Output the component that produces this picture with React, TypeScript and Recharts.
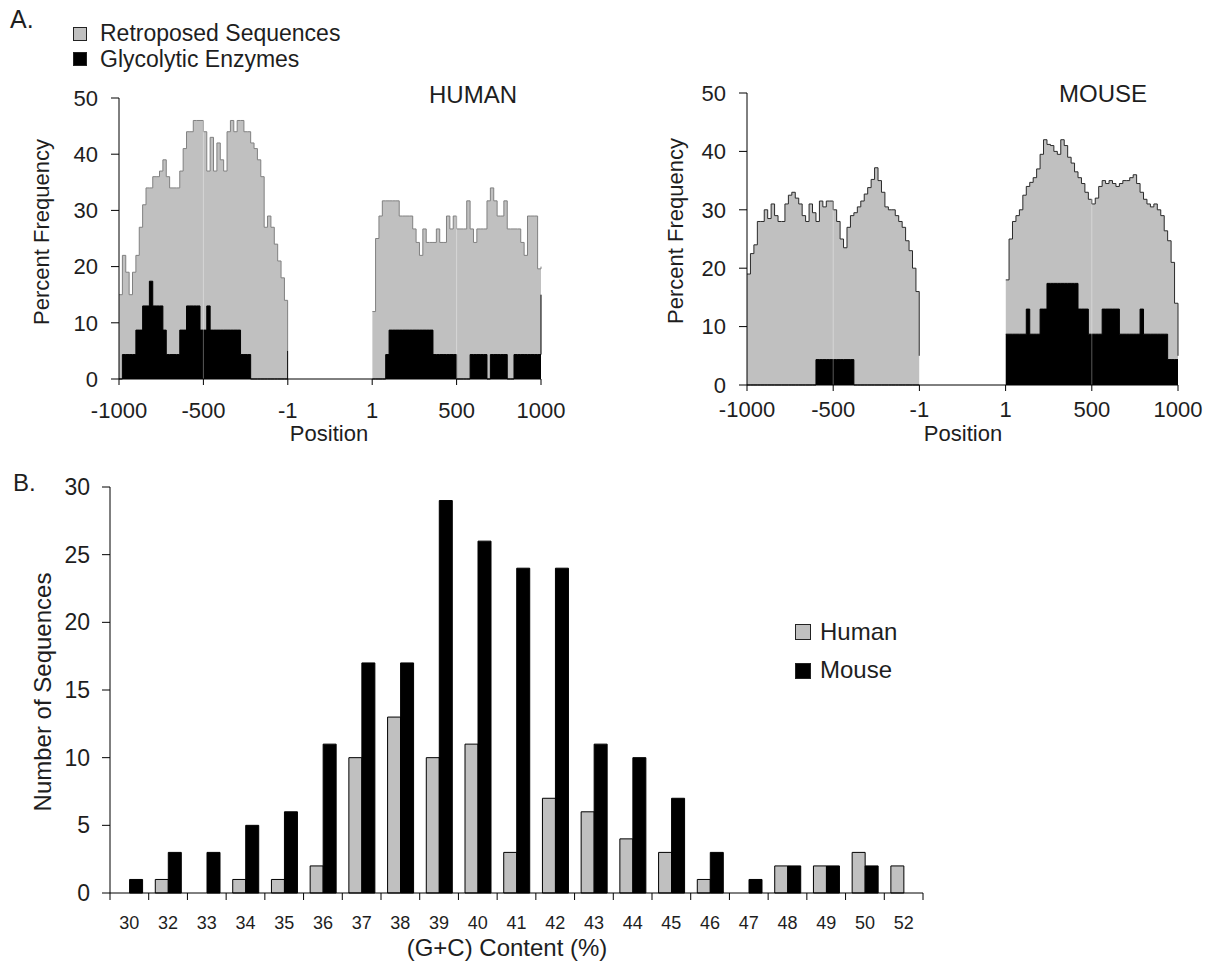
import React from "react";
import {
  AreaChart,
  Area,
  BarChart,
  Bar,
  XAxis,
  YAxis,
  ReferenceLine,
} from "recharts";

// window start positions (bp), upstream and downstream of the retroposition site
const leftPos = [
  -1000, -980, -960, -940, -920, -900, -880, -860, -840, -820,
  -800, -780, -760, -740, -720, -700, -680, -660, -640, -620,
  -600, -580, -560, -540, -520, -500, -480, -460, -440, -420,
  -400, -380, -360, -340, -320, -300, -280, -260, -240, -220,
  -200, -180, -160, -140, -120, -100, -80, -60, -40, -20, -1,
];
const rightPos = [
  1, 20, 40, 60, 80, 100, 120, 140, 160, 180,
  200, 220, 240, 260, 280, 300, 320, 340, 360, 380,
  400, 420, 440, 460, 480, 500, 520, 540, 560, 580,
  600, 620, 640, 660, 680, 700, 720, 740, 760, 780,
  800, 820, 840, 860, 880, 900, 920, 940, 960, 980, 1000,
];

const humanRetroLeft = [
  15, 22, 19, 15, 19, 22, 27, 31, 34, 34,
  36, 36, 37, 39, 36, 34, 34, 34, 37, 41,
  44, 44, 46, 46, 46, 44, 37, 43, 37, 42,
  39, 37, 44, 46, 44, 46, 46, 44, 44, 42,
  41, 39, 36, 27, 29, 27, 24, 21, 18, 14, 5,
];
const humanGlycoLeft = [
  0, 4.35, 4.35, 4.35, 4.35, 8.7, 8.7, 13, 13, 17.4,
  13, 13, 13, 8.7, 4.35, 4.35, 4.35, 4.35, 8.7, 8.7,
  13, 13, 13, 13, 8.7, 8.7, 13, 8.7, 8.7, 8.7,
  8.7, 8.7, 8.7, 8.7, 8.7, 8.7, 4.35, 4.35, 4.35, 0,
  0, 0, 0, 0, 0, 0, 0, 0, 0, 0, 5,
];
const humanRetroRight = [
  12, 25, 29, 31.7, 31.7, 31.7, 31.7, 31.7, 29, 29,
  29, 29, 26.7, 24.3, 22, 26.7, 24.3, 24.3, 24.3, 26.7,
  24.3, 24.3, 29, 26.7, 29, 26.7, 26.7, 26.7, 31.7, 26.7,
  24.3, 26.7, 26.7, 26.7, 31.7, 34, 31.7, 29, 29, 31.7,
  26.7, 26.7, 26.7, 26.7, 24.3, 22, 29, 29, 29, 19.6, 20,
];
const humanGlycoRight = [
  0, 0, 0, 0, 4.35, 8.7, 8.7, 8.7, 8.7, 8.7,
  8.7, 8.7, 8.7, 8.7, 8.7, 8.7, 8.7, 8.7, 4.35, 4.35,
  4.35, 4.35, 4.35, 4.35, 4.35, 0, 0, 0, 0, 4.35,
  4.35, 4.35, 4.35, 4.35, 0, 4.35, 4.35, 4.35, 4.35, 4.35,
  0, 0, 4.35, 4.35, 4.35, 4.35, 4.35, 4.35, 4.35, 4.35, 15,
];

const mouseRetroLeft = [
  19, 22.5, 24, 28, 28, 30, 28.5, 31, 29, 28,
  28, 31, 32.5, 33, 32, 31, 29, 28, 31, 29.5,
  28, 31.5, 30.5, 31.5, 31.5, 30, 28, 25, 23.5, 27,
  29, 29.5, 30.5, 31.5, 32.7, 33.8, 35.2, 37.2, 35, 33,
  30.5, 30, 30, 29, 28, 27, 24.7, 23, 20, 16, 5,
];
const mouseGlycoLeft = [
  0, 0, 0, 0, 0, 0, 0, 0, 0, 0,
  0, 0, 0, 0, 0, 0, 0, 0, 0, 0,
  4.35, 4.35, 4.35, 4.35, 4.35, 4.35, 4.35, 4.35, 4.35, 4.35,
  4.35, 0, 0, 0, 0, 0, 0, 0, 0, 0,
  0, 0, 0, 0, 0, 0, 0, 0, 0, 0, 0,
];
const mouseRetroRight = [
  18, 25, 28, 29, 30, 32.5, 34, 34.7, 35.5, 37,
  39.5, 42, 41.2, 41, 40, 39.5, 42, 41, 39, 38,
  36.5, 35.5, 34.5, 33, 31.8, 31, 32, 34, 35, 34.5,
  35, 34.5, 34, 34.5, 35, 35, 35.5, 36, 34.5, 33,
  31.8, 31, 30.5, 31, 30, 29, 26.4, 24.7, 21, 14, 5,
];
const mouseGlycoRight = [
  8.7, 8.7, 8.7, 8.7, 8.7, 8.7, 13, 8.7, 8.7, 8.7,
  13, 13, 17.4, 17.4, 17.4, 17.4, 17.4, 17.4, 17.4, 17.4,
  17.4, 13, 13, 13, 8.7, 8.7, 8.7, 8.7, 13, 13,
  13, 13, 13, 8.7, 8.7, 8.7, 8.7, 8.7, 8.7, 13,
  8.7, 8.7, 8.7, 8.7, 8.7, 8.7, 8.7, 4.35, 4.35, 4.35, 4.35,
];

const posTicks = [0, 500, 1000, 1500, 2000, 2500];
const posTickLabels = ["-1000", "-500", "-1", "1", "500", "1000"];
const freqTicks = [0, 10, 20, 30, 40, 50];

const gcCategories = [
  "30", "32", "33", "34", "35", "36", "37", "38", "39", "40", "41",
  "42", "43", "44", "45", "46", "47", "48", "49", "50", "52",
];
const humanCounts = [0, 1, 0, 1, 1, 2, 10, 13, 10, 11, 3, 7, 6, 4, 3, 1, 0, 2, 2, 3, 2];
const mouseCounts = [1, 3, 3, 5, 6, 11, 17, 17, 29, 26, 24, 24, 11, 10, 7, 3, 1, 2, 2, 2, 0];
const countTicks = [0, 5, 10, 15, 20, 25, 30];

const GRAY = "#c0c0c0";
const INK = "#1e1e1e";
const FONT = "'Liberation Sans', Arial, sans-serif";

// upstream mapped to 0..999, downstream shifted so a gap sits between them
function buildRows(rl: number[], gl: number[], rr: number[], gr: number[]) {
  const left = leftPos.map((p, i) => ({ x: p + 1000, retro: rl[i], glyco: gl[i] }));
  const right = rightPos.map((p, i) => ({ x: p + 1500, retro: rr[i], glyco: gr[i] }));
  return [...left, { x: 1250, retro: null, glyco: null }, ...right];
}

const humanRows = buildRows(humanRetroLeft, humanGlycoLeft, humanRetroRight, humanGlycoRight);
const mouseRows = buildRows(mouseRetroLeft, mouseGlycoLeft, mouseRetroRight, mouseGlycoRight);
const gcRows = gcCategories.map((c, i) => ({ gc: c, human: humanCounts[i], mouse: mouseCounts[i] }));

function Txt({ x, y, size, children, rotate, anchor = "middle" }: any) {
  const tx = anchor === "middle" ? "-50%" : "0";
  return (
    <div
      style={{
        position: "absolute",
        left: x,
        top: y,
        fontSize: size,
        lineHeight: 1,
        whiteSpace: "nowrap",
        color: INK,
        transform: `translate(${tx}, -50%)${rotate ? ` rotate(${rotate}deg)` : ""}`,
        transformOrigin: anchor === "middle" ? "center" : "left center",
      }}
    >
      {children}
    </div>
  );
}

function Swatch({ x, y, size, fill }: any) {
  return (
    <div
      style={{
        position: "absolute",
        left: x,
        top: y,
        width: size,
        height: size,
        boxSizing: "border-box",
        background: fill,
        border: "1px solid #222",
      }}
    />
  );
}

function PositionChart({ rows, width, yAxisWidth, marginTop, marginRight, xAxisHeight, tickMargin, stroke }: any) {
  return (
    <AreaChart
      width={width}
      height={460}
      data={rows}
      margin={{ top: marginTop, right: marginRight, left: 0, bottom: 0 }}
    >
      <XAxis
        dataKey="x"
        type="number"
        domain={[0, 2500]}
        ticks={posTicks}
        tickFormatter={(v: number) => posTickLabels[posTicks.indexOf(v)]}
        height={xAxisHeight}
        axisLine={{ stroke: "#000" }}
        tickLine={{ stroke: "#000" }}
        tickSize={6}
        tickMargin={tickMargin}
        tick={{ fontSize: 22, fill: INK }}
        interval={0}
      />
      <YAxis
        domain={[0, 50]}
        ticks={freqTicks}
        width={yAxisWidth}
        axisLine={{ stroke: "#000" }}
        tickLine={{ stroke: "#000" }}
        tickSize={8}
        tickMargin={13}
        tick={{ fontSize: 22, fill: INK }}
        interval={0}
      />
      <Area
        type="stepAfter"
        dataKey="retro"
        fill={GRAY}
        fillOpacity={1}
        stroke={stroke}
        strokeWidth={1}
        dot={false}
        activeDot={false}
        isAnimationActive={false}
      />
      <Area
        type="stepAfter"
        dataKey="glyco"
        fill="#000"
        fillOpacity={1}
        stroke="#000"
        strokeWidth={1}
        dot={false}
        activeDot={false}
        isAnimationActive={false}
      />
      <ReferenceLine x={500} stroke="#fff" strokeOpacity={0.35} />
      <ReferenceLine x={2000} stroke="#fff" strokeOpacity={0.35} />
    </AreaChart>
  );
}

function GcTick(props: any) {
  const { x, y, payload, index } = props;
  const half = payload && payload.offset ? payload.offset : 19.4;
  const last = index === gcCategories.length - 1;
  return (
    <g>
      <line x1={x - half} x2={x - half} y1={y} y2={y + 7} stroke="#000" />
      {last && <line x1={x + half} x2={x + half} y1={y} y2={y + 7} stroke="#000" />}
      <text x={x} y={y + 23} dy="0.71em" textAnchor="middle" fontSize={18} fill={INK}>
        {payload.value}
      </text>
    </g>
  );
}

export default function App() {
  return (
    <div
      style={{
        position: "absolute",
        left: 0,
        top: 0,
        width: 1210,
        height: 969,
        overflow: "hidden",
        background: "#fff",
        fontFamily: FONT,
      }}
    >
      <div style={{ position: "absolute", left: 0, top: 0 }}>
        <PositionChart
          rows={humanRows}
          width={600}
          yAxisWidth={119}
          marginTop={98}
          marginRight={59}
          xAxisHeight={81}
          tickMargin={17}
          stroke="#808080"
        />
      </div>
      <div style={{ position: "absolute", left: 620, top: 0 }}>
        <PositionChart
          rows={mouseRows}
          width={590}
          yAxisWidth={127}
          marginTop={93}
          marginRight={32}
          xAxisHeight={75}
          tickMargin={10}
          stroke="#2a2a2a"
        />
      </div>
      <div style={{ position: "absolute", left: 0, top: 470 }}>
        <BarChart
          width={960}
          height={499}
          data={gcRows}
          margin={{ top: 17, right: 37, left: 0, bottom: 0 }}
          barGap={0}
          barCategoryGap="17%"
        >
          <XAxis
            dataKey="gc"
            height={76}
            axisLine={{ stroke: "#000" }}
            tickLine={false}
            tickSize={0}
            tickMargin={0}
            interval={0}
            tick={<GcTick />}
          />
          <YAxis
            domain={[0, 30]}
            ticks={countTicks}
            width={110}
            axisLine={{ stroke: "#000" }}
            tickLine={{ stroke: "#000" }}
            tickSize={8}
            tickMargin={12}
            tick={{ fontSize: 23, fill: INK }}
            interval={0}
          />
          <Bar dataKey="human" fill={GRAY} stroke="#000" strokeWidth={1} isAnimationActive={false} />
          <Bar dataKey="mouse" fill="#000" stroke="#000" strokeWidth={1} isAnimationActive={false} />
        </BarChart>
      </div>

      <Txt x={10} y={19} size={25} anchor="start">A.</Txt>
      <Swatch x={73} y={27} size={14} fill={GRAY} />
      <Txt x={100} y={33} size={23} anchor="start">Retroposed Sequences</Txt>
      <Swatch x={73} y={52} size={14} fill="#000" />
      <Txt x={100} y={59} size={23} anchor="start">Glycolytic Enzymes</Txt>

      <Txt x={473} y={95} size={24}>HUMAN</Txt>
      <Txt x={1103} y={94} size={24}>MOUSE</Txt>
      <Txt x={42} y={232} size={22} rotate={-90}>Percent Frequency</Txt>
      <Txt x={676} y={231} size={22} rotate={-90}>Percent Frequency</Txt>
      <Txt x={329} y={434} size={22}>Position</Txt>
      <Txt x={963} y={434} size={22}>Position</Txt>

      <Txt x={13} y={483} size={24} anchor="start">B.</Txt>
      <Txt x={43} y={692} size={24} rotate={-90}>Number of Sequences</Txt>
      <Txt x={507} y={948} size={24}>(G+C) Content (%)</Txt>
      <Swatch x={795} y={624} size={16} fill={GRAY} />
      <Txt x={820} y={632} size={24} anchor="start">Human</Txt>
      <Swatch x={795} y={663} size={16} fill="#000" />
      <Txt x={820} y={670} size={24} anchor="start">Mouse</Txt>
    </div>
  );
}
